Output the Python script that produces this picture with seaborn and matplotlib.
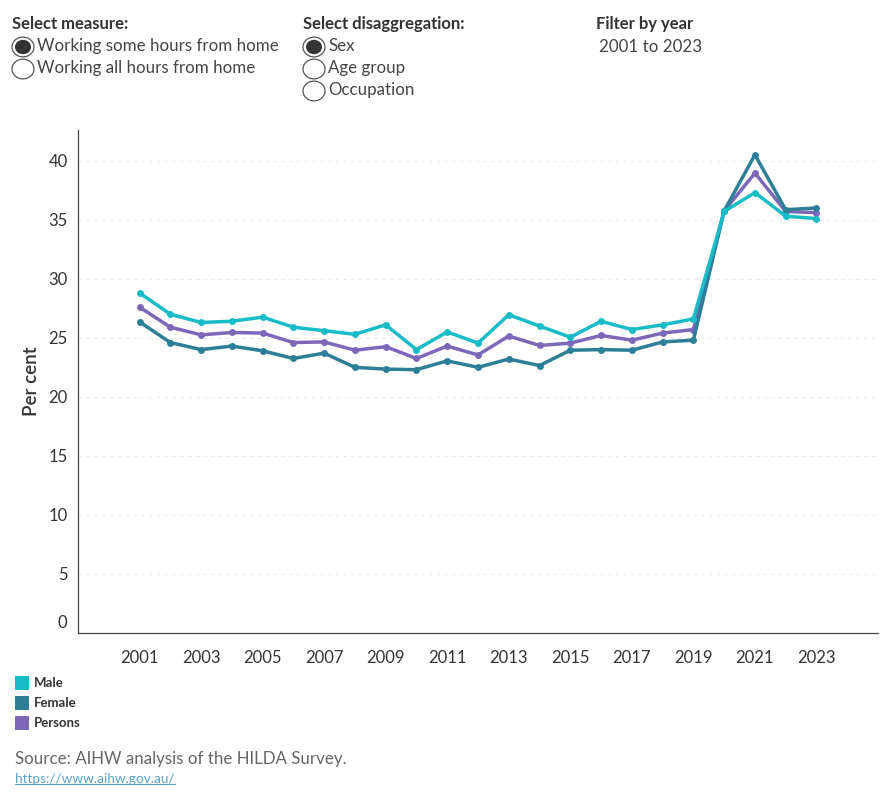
import pandas as pd
import matplotlib.pyplot as plt
import matplotlib.transforms as mtransforms
import seaborn as sns
from matplotlib.patches import Rectangle, Circle

# Data
years = list(range(2001, 2024))
male = [28.8, 27.0, 26.3, 26.4, 26.75, 25.9, 25.6, 25.3, 26.1, 24.0, 25.5, 24.55,
        26.95, 26.0, 25.05, 26.4, 25.7, 26.1, 26.6, 35.7, 37.3, 35.3, 35.1]
female = [26.35, 24.6, 24.0, 24.3, 23.9, 23.25, 23.7, 22.5, 22.35, 22.3, 23.05, 22.5,
          23.2, 22.65, 23.95, 24.0, 23.95, 24.65, 24.8, 35.75, 40.5, 35.85, 36.0]
persons = [27.6, 25.9, 25.25, 25.45, 25.4, 24.6, 24.65, 23.95, 24.25, 23.25, 24.3, 23.55,
           25.15, 24.35, 24.55, 25.2, 24.8, 25.4, 25.7, 35.75, 38.95, 35.7, 35.6]
series = ["Male", "Female", "Persons"]
colors = {"Male": "#17BCC7", "Female": "#2C7F97", "Persons": "#7B68B8"}

df = pd.DataFrame({
    "Year": years * 3,
    "Value": male + female + persons,
    "Series": ["Male"] * len(years) + ["Female"] * len(years) + ["Persons"] * len(years),
})

sns.set_theme(style="white")
plt.rcParams["font.family"] = ["Lato", "DejaVu Sans"]

fig = plt.figure(figsize=(8.9, 8), dpi=100)
ax = fig.add_axes([78 / 890, (800 - 633) / 800, 800 / 890, (633 - 130) / 800])

# draw Persons first so Male sits on top
sns.lineplot(data=df, x="Year", y="Value", hue="Series",
             hue_order=["Persons", "Female", "Male"], palette=colors,
             marker="o", markersize=5, markeredgewidth=0, linewidth=2.5,
             legend=False, ax=ax)

ax.set_xlim(1999, 2025)
ax.set_ylim(0, 42.6)
ax.set_xticks(range(2001, 2024, 2))
ax.set_xticks(range(1999, 2026), minor=True)
ax.set_yticks(range(0, 41, 5))
ax.tick_params(axis="both", labelsize=12, colors="#555555", length=4, width=0.8)
ax.tick_params(axis="x", which="minor", length=3, width=0.8, color="#555555")
ax.tick_params(axis="x", pad=8)
for lbl in ax.get_xticklabels() + ax.get_yticklabels():
    lbl.set_color("#333333")
ax.yaxis.grid(True, linestyle=(0, (4, 3)), color="#ececec", linewidth=0.8)
ax.xaxis.grid(False)
for side in ["top", "right"]:
    ax.spines[side].set_visible(False)
for side in ["left", "bottom"]:
    ax.spines[side].set_color("#444444")
    ax.spines[side].set_linewidth(0.9)
ax.set_xlabel("")
ax.set_ylabel("Per cent", fontsize=13.5, color="#333333", fontweight="semibold", labelpad=6)

# the zero label sits a little above its tick, as in the original
zero = ax.get_yticklabels()[0]
zero.set_transform(zero.get_transform() + mtransforms.ScaledTranslation(0, 0.12, fig.dpi_scale_trans))

# --- Top controls ---
def ftxt(x, y, s, **kw):
    fig.text(x / 890, 1 - y / 800, s, va="center", ha="left", **kw)

def radio(x, y, filled):
    fig.patches.append(Circle((x / 890, 1 - y / 800), 11 / 890, transform=fig.transFigure,
                              facecolor="white", edgecolor="#555555", linewidth=0.9))
    if filled:
        fig.patches.append(Circle((x / 890, 1 - y / 800), 8 / 890, transform=fig.transFigure,
                                  facecolor="#333333", edgecolor="none"))

ftxt(12, 24, "Select measure:", fontsize=12, fontweight="bold", color="#333333")
radio(23, 47, True)
ftxt(37, 46, "Working some hours from home", fontsize=12.2, color="#444444")
radio(23, 69, False)
ftxt(37, 68, "Working all hours from home", fontsize=12.2, color="#444444")

ftxt(303, 24, "Select disaggregation:", fontsize=12, fontweight="bold", color="#333333")
radio(314, 47, True)
ftxt(328, 46, "Sex", fontsize=12.2, color="#444444")
radio(314, 69, False)
ftxt(328, 68, "Age group", fontsize=12.2, color="#444444")
radio(314, 91, False)
ftxt(328, 90, "Occupation", fontsize=12.2, color="#444444")

ftxt(596, 24, "Filter by year", fontsize=12, fontweight="bold", color="#333333")
ftxt(599, 47, "2001 to 2023", fontsize=12.2, color="#444444")

# --- Legend ---
for i, name in enumerate(series):
    y = 683 + 20 * i
    fig.patches.append(Rectangle((15 / 890, 1 - (y + 7) / 800), 14 / 890, 14 / 800,
                                 transform=fig.transFigure, facecolor=colors[name],
                                 edgecolor="none"))
    ftxt(34, y, name, fontsize=9.5, fontweight="bold", color="#333333")

# --- Source ---
ftxt(15, 759, "Source: AIHW analysis of the HILDA Survey.", fontsize=12.2, color="#666666")
t = fig.text(15 / 890, 1 - 779 / 800, "https://www.aihw.gov.au/", va="center", ha="left",
             fontsize=9.8, color="#5AA3C8")
fig.canvas.draw()
bb = t.get_window_extent()
fig.add_artist(plt.Line2D([bb.x0 / 890, bb.x1 / 890], [(bb.y0 + 1) / 800, (bb.y0 + 1) / 800],
                          transform=fig.transFigure, color="#5AA3C8", linewidth=0.8))

fig.savefig("out.png", dpi=100)
